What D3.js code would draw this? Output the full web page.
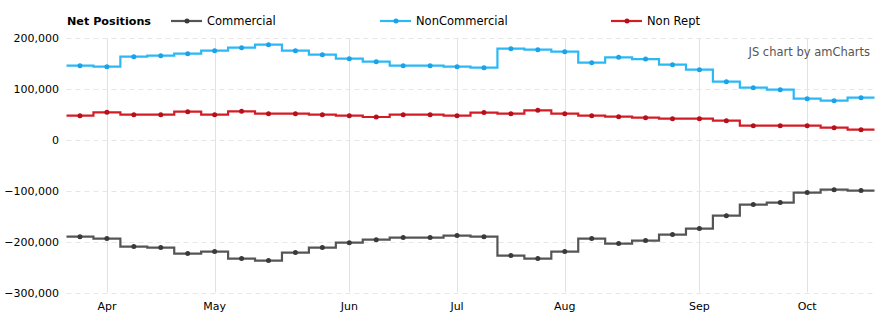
<!DOCTYPE html>
<html>
<head>
<meta charset="utf-8">
<script src="https://cdn.jsdelivr.net/npm/d3@7"></script>
<style>
  html, body { margin: 0; padding: 0; background: #fff; }
  svg { display: block; font-family: "DejaVu Sans", Verdana, sans-serif; }
</style>
</head>
<body>
<svg id="chart" width="887" height="325"></svg>
<script>
// ---- data ----
const dates = [
  "2017-03-28","2017-04-04","2017-04-11","2017-04-18","2017-04-25",
  "2017-05-02","2017-05-09","2017-05-16","2017-05-23","2017-05-30",
  "2017-06-06","2017-06-13","2017-06-20","2017-06-27",
  "2017-07-04","2017-07-11","2017-07-18","2017-07-25",
  "2017-08-01","2017-08-08","2017-08-15","2017-08-22","2017-08-29",
  "2017-09-05","2017-09-12","2017-09-19","2017-09-26",
  "2017-10-03","2017-10-10","2017-10-17"
];
const commercial = [
  -190100,-194000,-209700,-211700,-223500,-219500,-233300,-237200,-221500,-211700,
  -201900,-196000,-192000,-192000,-188100,-190100,-227400,-233300,-219500,-194000,
  -203800,-197900,-186100,-174300,-148800,-127100,-123200,-103500,-97700,-99600
];
const nonCommercial = [
  146100,144200,163800,165800,169700,175600,181500,187400,175600,167800,
  159900,154000,146100,146100,144200,142200,179600,177600,173700,152000,
  162500,159200,148100,138300,114700,102900,98900,81300,77300,83200
];
const nonRept = [
  47800,54400,49800,49800,55700,49800,56400,51800,51800,49800,
  47800,45200,49800,49800,47800,54000,51800,58300,51800,47800,
  45900,43900,41900,41900,38000,28200,28200,28200,24200,20300
];
const yTicks = [200000, 100000, 0, -100000, -200000, -300000];
const monthLabels = ["Apr","May","Jun","Jul","Aug","Sep","Oct"];
const seriesNames = ["Commercial","NonCommercial","Non Rept"];
const legendTitle = "Net Positions";

// ---- layout ----
const svg = d3.select("#chart");
const plot = { left: 66.5, right: 874.5, top: 38.3, bottom: 292.5 };
const colors = { "Commercial": "#555555", "NonCommercial": "#2bb8f5", "Non Rept": "#d41c26" };
const bulletColors = { "Commercial": "#3a3a3a", "NonCommercial": "#1aa3e8", "Non Rept": "#b8101a" };

const x = d3.scaleBand().domain(dates).range([plot.left, plot.right]).padding(0);
const cx = d => x(d) + x.bandwidth() / 2;
const y = d3.scaleLinear().domain([-300000, 200000]).range([plot.bottom, plot.top]);

// first week of each month -> tick
const monthTicks = [];
let lastMonth = null;
dates.forEach(d => {
  const m = d.slice(0, 7);
  if (m !== lastMonth) { if (lastMonth !== null) monthTicks.push(d); lastMonth = m; }
});

// vertical grid
svg.append("g").selectAll("line").data(monthTicks).join("line")
  .attr("x1", d => Math.round(cx(d)) + 0.5).attr("x2", d => Math.round(cx(d)) + 0.5)
  .attr("y1", plot.top).attr("y2", plot.bottom)
  .attr("stroke", "#e2e2e2").attr("stroke-width", 1);

// horizontal grid (dashed)
svg.append("g").selectAll("line").data(yTicks).join("line")
  .attr("x1", plot.left).attr("x2", plot.right)
  .attr("y1", d => Math.round(y(d)) + 0.5).attr("y2", d => Math.round(y(d)) + 0.5)
  .attr("stroke", "#e6e6e6").attr("stroke-width", 1).attr("stroke-dasharray", "5,4");

// y axis labels
const fmt = d3.format(",");
svg.append("g").selectAll("text").data(yTicks).join("text")
  .attr("x", 59).attr("y", d => y(d) + 4)
  .attr("text-anchor", "end").attr("font-size", 11).attr("fill", "#000")
  .text(d => fmt(d));

// x axis labels
svg.append("g").selectAll("text").data(monthTicks).join("text")
  .attr("x", d => cx(d)).attr("y", 310)
  .attr("text-anchor", "middle").attr("font-size", 11).attr("fill", "#000")
  .text((d, i) => monthLabels[i]);

// watermark
svg.append("text").attr("x", 870).attr("y", 56).attr("text-anchor", "end")
  .attr("font-size", 11.5).attr("fill", "#555").text("JS chart by amCharts");

// series
const seriesData = [
  { name: "Commercial", values: commercial },
  { name: "NonCommercial", values: nonCommercial },
  { name: "Non Rept", values: nonRept }
];
const line = d3.line().x(p => p[0]).y(p => p[1]).curve(d3.curveStep);

seriesData.forEach(s => {
  const pts = dates.map((d, i) => [cx(d), y(s.values[i])]);
  const ext = [[x.range()[0], y(s.values[0])], ...pts, [x.range()[1], y(s.values[s.values.length - 1])]];
  svg.append("path").attr("d", line(ext))
    .attr("fill", "none").attr("stroke", colors[s.name]).attr("stroke-width", 2.2)
    .attr("stroke-linejoin", "miter");
  svg.append("g").selectAll("circle").data(pts).join("circle")
    .attr("cx", p => p[0]).attr("cy", p => p[1]).attr("r", 2.5)
    .attr("fill", bulletColors[s.name]);
});

// legend
const lg = svg.append("g");
lg.append("text").attr("x", 67).attr("y", 25).attr("font-size", 11).attr("font-weight", "bold")
  .attr("textLength", 84).attr("lengthAdjust", "spacingAndGlyphs")
  .attr("fill", "#000").text(legendTitle);
const legendX = [171, 380, 611];
seriesNames.forEach((n, i) => {
  const g = lg.append("g").attr("transform", `translate(${legendX[i]},0)`);
  g.append("line").attr("x1", 0).attr("x2", 31).attr("y1", 21).attr("y2", 21)
    .attr("stroke", colors[n]).attr("stroke-width", 2.2);
  g.append("circle").attr("cx", 16).attr("cy", 21).attr("r", 2.5).attr("fill", bulletColors[n]);
  g.append("text").attr("x", 36).attr("y", 25).attr("font-size", 11.5).attr("fill", "#000").text(n);
});
</script>
</body>
</html>
